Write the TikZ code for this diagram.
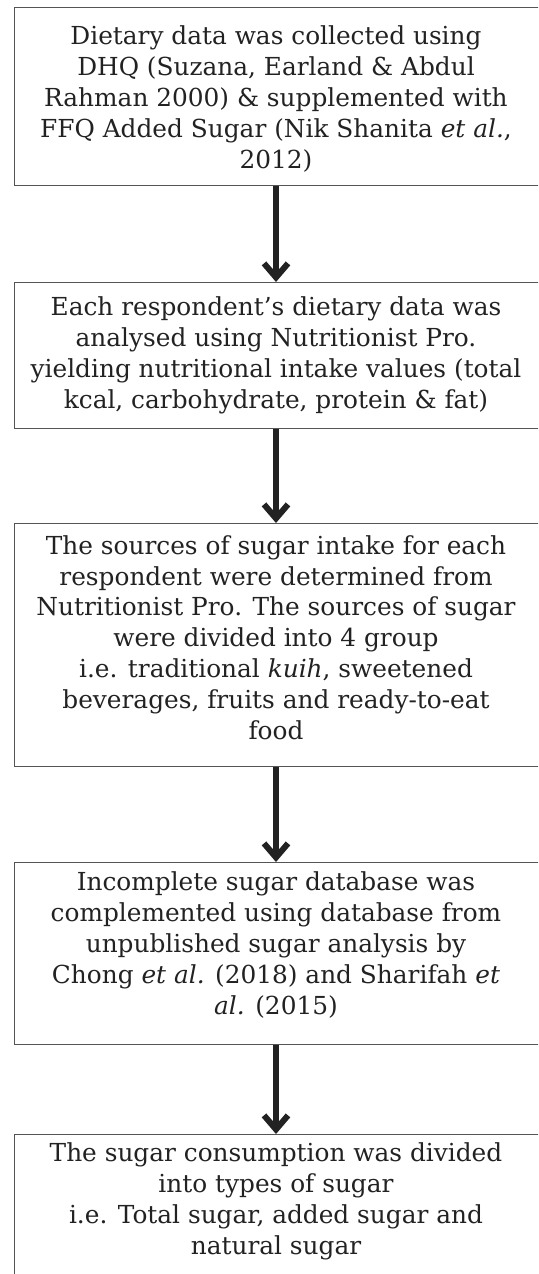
\documentclass[tikz,border=0pt]{standalone}
\usepackage{fontspec}
\setmainfont{DejaVu Serif}
\usetikzlibrary{arrows.meta}
\definecolor{boxline}{HTML}{555555}
\definecolor{ink}{HTML}{222222}
\begin{document}
\begin{tikzpicture}[x=0.5pt,y=-0.5pt,
  box/.style={draw=boxline, line width=0.7pt, inner sep=0pt, anchor=north west, minimum width=264pt},
  txt/.style={anchor=base, align=center, inner sep=0pt, text=ink, font=\fontsize{12.4}{15.4}\selectfont},
  arr/.style={draw=ink, line width=3pt, -{Straight Barb[length=7pt,width=12pt,line width=3pt]}}]
\useasboundingbox (0,0) rectangle (538,1274);
\clip (0,0) rectangle (538,1274);
% boxes
\node[box, minimum height=89pt] (b1) at (14,7) {};
\node[box, minimum height=73pt] (b2) at (14,282) {};
\node[box, minimum height=121.5pt] (b3) at (14,523) {};
\node[box, minimum height=91pt] (b4) at (14,862) {};
\node[box, minimum height=80pt] (b5) at (14,1134) {};
% texts (base anchor = baseline of last line)
\node[txt] (t1) at (276,168) {Dietary data was collected using\\DHQ (Suzana, Earland \& Abdul\\Rahman 2000) \& supplemented with\\FFQ Added Sugar (Nik Shanita \textit{et al.},\\2012)};
\node[txt] (t2) at (276,408) {Each respondent’s dietary data was\\analysed using Nutritionist Pro.\\yielding nutritional intake values (total\\kcal, carbohydrate, protein \& fat)};
\node[txt] (t3) at (276,739) {The sources of sugar intake for each\\respondent were determined from\\Nutritionist Pro. The sources of sugar\\were divided into 4 group\\i.e. traditional \textit{kuih}, sweetened\\beverages, fruits and ready-to-eat\\food};
\node[txt] (t4) at (276,1014) {Incomplete sugar database was\\complemented using database from\\unpublished sugar analysis by\\Chong \textit{et al.} (2018) and Sharifah \textit{et}\\\textit{al.} (2015)};
\node[txt] (t5) at (276,1254) {The sugar consumption was divided\\into types of sugar\\i.e. Total sugar, added sugar and\\natural sugar};
% arrows
\draw[arr] (t1 |- b1.south) -- (t1 |- b2.north);
\draw[arr] (t2 |- b2.south) -- (t2 |- b3.north);
\draw[arr] (t3 |- b3.south) -- (t3 |- b4.north);
\draw[arr] (t4 |- b4.south) -- (t4 |- b5.north);
\end{tikzpicture}
\end{document}
